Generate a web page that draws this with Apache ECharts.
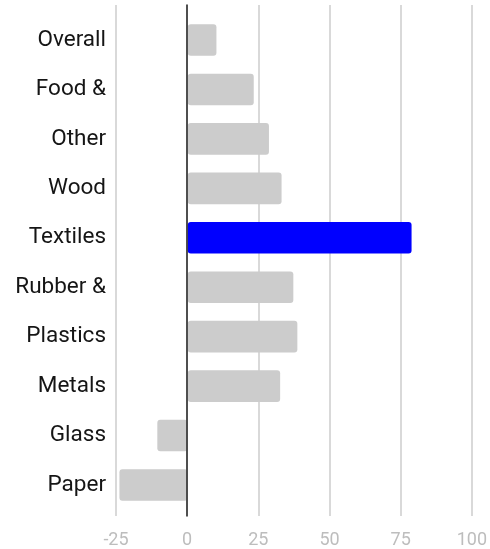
<!DOCTYPE html>
<html>
<head>
<meta charset="utf-8">
<script src="https://cdn.jsdelivr.net/npm/echarts@6/dist/echarts.min.js"></script>
<style>html,body{margin:0;padding:0;background:#fff;}#c{width:490px;height:549px;}</style>
</head>
<body>
<div id="c"></div>
<script>
const categories = ['Overall', 'Food &', 'Other', 'Wood', 'Textiles', 'Rubber &', 'Plastics', 'Metals', 'Glass', 'Paper'];
const values = [10, 23, 28.3, 32.7, 78, 36.8, 38.2, 32.2, -10.6, -23.8];
const highlighted = ['Textiles'];
const xTicks = { min: -25, max: 100, interval: 25 };

const chart = echarts.init(document.getElementById('c'));
chart.setOption({
  animation: false,
  textStyle: { fontFamily: 'Roboto' },
  grid: [
    { left: 116, right: 15.3, top: 15.3, bottom: 39.3 },
    { left: 116, right: 15.3, top: 5, bottom: 33 }
  ],
  xAxis: [
    { gridIndex: 0, type: 'value', min: xTicks.min, max: xTicks.max, interval: xTicks.interval,
      axisLabel: { show: false }, splitLine: { show: false }, axisLine: { show: false }, axisTick: { show: false } },
    { gridIndex: 1, type: 'value', min: xTicks.min, max: xTicks.max, interval: xTicks.interval,
      axisLabel: { color: '#bdbdbd', fontSize: 18, margin: 15, fontFamily: 'Roboto' },
      splitLine: { show: true, lineStyle: { color: '#cccccc', width: 1.5 } },
      axisLine: { show: false }, axisTick: { show: false } }
  ],
  yAxis: [
    { gridIndex: 0, type: 'category', data: categories, inverse: true,
      axisLine: { show: false }, axisTick: { show: false }, splitLine: { show: false },
      axisLabel: { color: '#151515', fontSize: 22.5, margin: 10, fontFamily: 'Roboto' } },
    { gridIndex: 1, type: 'value', min: 0, max: 1, z: 10,
      axisLine: { show: true, onZero: true, lineStyle: { color: '#222', width: 1.5 } },
      axisLabel: { show: false }, axisTick: { show: false }, splitLine: { show: false } }
  ],
  series: [{
    type: 'bar',
    xAxisIndex: 0, yAxisIndex: 0,
    data: values,
    barWidth: '64%',
    itemStyle: {
      borderRadius: 3,
      color: function (p) { return highlighted.indexOf(categories[p.dataIndex]) >= 0 ? '#0000ff' : '#cccccc'; }
    }
  }]
});
</script>
</body>
</html>
